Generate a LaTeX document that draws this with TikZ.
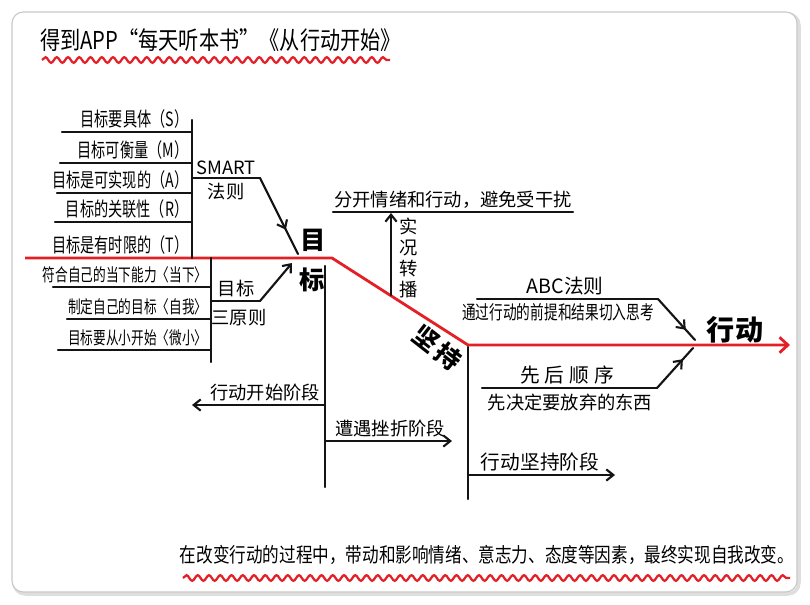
\documentclass[tikz,border=0pt]{standalone}
\usepackage{fontspec}
\setmainfont{Noto Sans CJK SC}
\newfontfamily\narrowcjk[FakeStretch=0.72]{Noto Sans CJK SC}
\newfontfamily\slimcjk[FakeStretch=0.82]{Noto Sans CJK SC}
\usepackage{xcolor}
\definecolor{inkred}{RGB}{228,32,38}
\definecolor{inkblack}{RGB}{20,20,20}
\definecolor{framegray}{RGB}{200,200,200}
\usetikzlibrary{arrows.meta, positioning, decorations.pathmorphing, decorations.markings}

\tikzset{
  ink/.style={draw=inkblack, line width=1.5pt, line cap=round, line join=round},
  redink/.style={draw=inkred, line width=2pt, line join=round},
  barb/.style={-{Straight Barb[length=5pt, width=8pt]}},
  midbarb/.style={postaction={decorate}, decoration={markings, mark=at position #1 with {\arrow{Straight Barb[length=5pt, width=8pt]}}}},
  wavy/.style={draw=inkred, line width=1.6pt, decorate, decoration={snake, amplitude=2pt, segment length=8pt}},
  item/.style={font=\narrowcjk\fontsize{14}{16}\selectfont, inner sep=1pt, anchor=south east},
  ruleitem/.style={font=\narrowcjk\fontsize{12.5}{14}\selectfont, inner sep=1pt, anchor=south east},
  stage/.style={font=\fontsize{13}{15}\selectfont, inner sep=1pt},
  keyword/.style={font=\fontsize{18}{20}\selectfont\bfseries, inner sep=0pt},
}

\begin{document}
\begin{tikzpicture}[x=0.025cm, y=-0.025cm]
  \useasboundingbox (0,0) rectangle (810,605);

  % Frame
  \draw[framegray!60, line width=2.5pt, rounded corners=8pt] (14,14) rectangle (799,594);
  \draw[framegray, line width=0.8pt, fill=white, rounded corners=8pt] (12,12) rectangle (797,592);

  % Title
  \node[font=\slimcjk\fontsize{17.5}{19}\selectfont, anchor=west, inner sep=0pt] (title) at (40,40) {得到APP“每天听本书”《从行动开始》};
  \coordinate (tw0) at (42,60);
  \coordinate (tw1) at (390,60);
  \draw[wavy] (tw0) -- (tw1);

  % --- Main red line ---
  \coordinate (m0) at (25,258);
  \coordinate (m1) at (332,258);
  \coordinate (m2) at (468,345);
  \coordinate (m3) at (790,345);
  \draw[redink, -{Straight Barb[length=6pt, width=11pt]}] (m0) -- (m1) -- (m2) -- (m3);

  % --- Left top: SMART ---
  \coordinate (s0) at (192,120);
  \coordinate (s1) at (192,258);
  \draw[ink] (s0) -- (s1);
  \coordinate (sl1) at (62,132);  \coordinate (sr1) at (192,132);
  \coordinate (sl2) at (60,163);  \coordinate (sr2) at (192,163);
  \coordinate (sl3) at (57,193);  \coordinate (sr3) at (192,193);
  \coordinate (sl4) at (55,222);  \coordinate (sr4) at (192,222);
  \draw[ink] (sl1) -- (sr1);
  \draw[ink] (sl2) -- (sr2);
  \draw[ink] (sl3) -- (sr3);
  \draw[ink] (sl4) -- (sr4);
  \node[item] (specific) at (190,130) {目标要具体（S）};
  \node[item] (measurable) at (190,161) {目标可衡量（M）};
  \node[item] (attainable) at (190,191) {目标是可实现的（A）};
  \node[item] (relevant) at (190,220) {目标的关联性（R）};
  \node[item] (timebound) at (190,256) {目标是有时限的（T）};

  \coordinate (sb0) at (192,178);
  \coordinate (sb1) at (260,178);
  \coordinate (sb2) at (298,254);
  \draw[ink] (sb0) -- (sb1);
  \draw[ink, midbarb=0.68] (sb1) -- (sb2);
  \node[stage, anchor=south] (smart) at (226,176) {SMART};
  \node[stage, anchor=north] (smartrule) at (226,181) {法则};
  \node[keyword] (mu) at (313,240) {目};

  % --- Left bottom: three rules ---
  \coordinate (t0) at (211,258);
  \coordinate (t1) at (211,362);
  \draw[ink] (t0) -- (t1);
  \coordinate (tl1) at (53,287);  \coordinate (tr1) at (211,287);
  \coordinate (tl2) at (67,319);  \coordinate (tr2) at (211,319);
  \coordinate (tl3) at (58,350);  \coordinate (tr3) at (211,350);
  \draw[ink] (tl1) -- (tr1);
  \draw[ink] (tl2) -- (tr2);
  \draw[ink] (tl3) -- (tr3);
  \node[ruleitem] (present) at (209,285) {符合自己的当下能力〈当下〉};
  \node[ruleitem] (self) at (209,317) {制定自己的目标〈自我〉};
  \node[ruleitem] (small) at (209,348) {目标要从小开始〈微小〉};

  \coordinate (tb0) at (211,301);
  \coordinate (tb1) at (260,301);
  \coordinate (tb2) at (292,263);
  \draw[ink] (tb0) -- (tb1);
  \draw[ink, barb] (tb1) -- (tb2);
  \node[stage, anchor=south] (goalrule) at (236,299) {目标};
  \node[stage, anchor=north] (threerule) at (239,308) {三原则};
  \node[keyword] (biao) at (312,280) {标};

  % --- Middle: stages ---
  \coordinate (v1a) at (325,266);
  \coordinate (v1b) at (325,487);
  \draw[ink] (v1a) -- (v1b);
  \coordinate (st1a) at (325,405);
  \coordinate (st1b) at (192,405);
  \draw[ink, barb] (st1a) -- (st1b);
  \node[stage, anchor=south] (startstage) at (265,403) {行动开始阶段};
  \coordinate (st2a) at (325,441);
  \coordinate (st2b) at (452,441);
  \draw[ink, barb] (st2a) -- (st2b);
  \node[stage, anchor=south] (setback) at (390,439) {遭遇挫折阶段};

  % Separate emotion and action
  \coordinate (e0) at (333,212);
  \coordinate (e1) at (573,212);
  \draw[ink] (e0) -- (e1);
  \node[stage, anchor=south] (separate) at (453,210) {分开情绪和行动，避免受干扰};
  \coordinate (lv0) at (391,295);
  \coordinate (lv1) at (391,213);
  \draw[ink, barb] (lv0) -- (lv1);
  \node[stage, align=center] (live) at (409,258) {实\\况\\转\\播};

  \node[keyword, rotate=-38] (jian) at (426,339) {坚};
  \node[keyword, rotate=-38] (chi) at (448,357) {持};

  % --- Right: persistence ---
  \coordinate (v2a) at (468,347);
  \coordinate (v2b) at (468,499);
  \draw[ink] (v2a) -- (v2b);
  \coordinate (st3a) at (468,475);
  \coordinate (st3b) at (615,475);
  \draw[ink, barb] (st3a) -- (st3b);
  \node[stage, anchor=south, font=\fontsize{14}{16}\selectfont] (keepstage) at (540,473) {行动坚持阶段};

  % ABC rule
  \coordinate (a0) at (477,299);
  \coordinate (a1) at (658,299);
  \coordinate (a2) at (695,340);
  \draw[ink] (a0) -- (a1);
  \draw[ink, midbarb=0.75] (a1) -- (a2);
  \node[stage, anchor=south, font=\fontsize{14}{16}\selectfont] (abc) at (565,297) {ABC法则};
  \node[stage, anchor=north, font=\narrowcjk\fontsize{13.5}{15}\selectfont] (abctext) at (558,302) {通过行动的前提和结果切入思考};

  % Order
  \coordinate (o0) at (482,388);
  \coordinate (o1) at (657,388);
  \coordinate (o2) at (693,348);
  \draw[ink] (o0) -- (o1);
  \draw[ink, midbarb=0.72] (o1) -- (o2);
  \node[stage, anchor=south, font=\fontsize{14}{16}\selectfont] (order) at (567,386) {先\hspace{0.25em}后\hspace{0.25em}顺\hspace{0.25em}序};
  \node[stage, anchor=north] (ordertext) at (570,392) {先决定要放弃的东西};

  \node[keyword, font=\fontsize{20}{22}\selectfont\bfseries] (xingdong) at (735,330) {行动};

  % Bottom summary
  \node[font=\slimcjk\fontsize{14.4}{16}\selectfont, inner sep=0pt] (summary) at (487,555) {在改变行动的过程中，带动和影响情绪、意志力、态度等因素，最终实现自我改变。};
  \coordinate (bw0) at (183,578);
  \coordinate (bw1) at (790,578);
  \draw[wavy] (bw0) -- (bw1);
\end{tikzpicture}
\end{document}
